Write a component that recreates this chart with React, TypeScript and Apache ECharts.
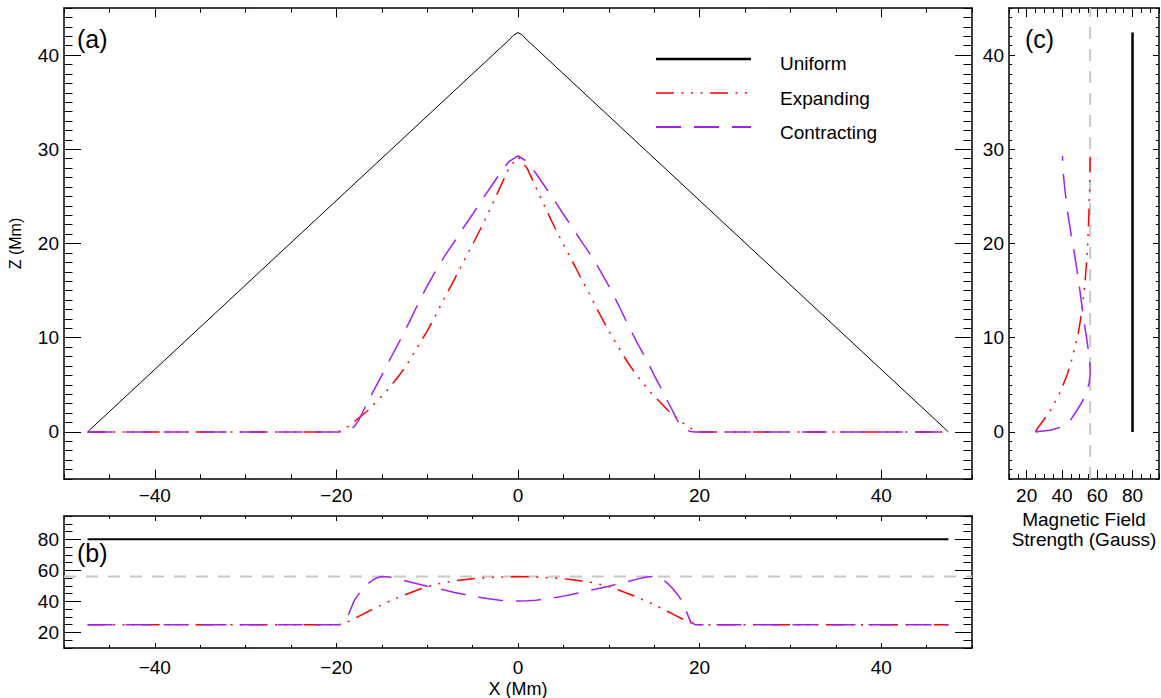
import React, { useEffect, useRef } from "react";
import * as echarts from "echarts";

// ---------------- data ----------------
// loop footpoint-to-footpoint coordinate (Mm)
const X_MM = [-47.4, -40, -30, -21, -20, -19.5, -19, -18.5, -18, -17.5, -17, -16.5, -16, -15.5, -15, -14.5, -14, -13, -12, -11, -10, -9, -8, -7, -6, -5, -4, -3, -2, -1, 0, 1, 2, 3, 4, 5, 6, 7, 8, 9, 10, 11, 12, 13, 14, 14.5, 15, 15.5, 16, 16.5, 17, 17.5, 18, 18.5, 19, 19.5, 20, 21, 30, 40, 47.4];
// loop height Z (Mm)
const Z_EXP = [0, 0, 0, 0, 0, 0.1, 0.4, 0.7, 1.1, 1.5, 1.9, 2.3, 2.8, 3.3, 3.8, 4.3, 4.9, 6.1, 7.5, 9.1, 10.7, 12.5, 14.4, 16.2, 18.1, 19.9, 21.8, 23.8, 25.9, 28.0, 29.2, 28.0, 25.9, 23.8, 21.8, 19.9, 18.1, 16.2, 14.4, 12.5, 10.7, 9.1, 7.5, 6.1, 4.9, 4.3, 3.8, 3.3, 2.8, 2.3, 1.9, 1.5, 1.1, 0.7, 0.4, 0.1, 0, 0, 0, 0, 0];
const Z_CON = [0, 0, 0, 0, 0, 0, 0.05, 0.2, 0.6, 1.3, 2.3, 3.2, 4.2, 5.1, 6.0, 7.0, 7.9, 9.7, 11.6, 13.6, 15.5, 17.2, 18.8, 20.2, 21.7, 23.1, 24.6, 26.0, 27.4, 28.7, 29.3, 28.7, 27.4, 26.0, 24.6, 23.1, 21.7, 20.2, 18.8, 17.2, 15.5, 13.6, 11.6, 9.7, 7.9, 7.0, 6.0, 5.1, 4.2, 3.2, 2.3, 1.3, 0.6, 0.2, 0.05, 0, 0, 0, 0, 0, 0];
// magnetic field strength B (Gauss)
const B_EXP = [25, 25, 25, 25, 25, 25.3, 26.2, 27.5, 29, 30.5, 32, 33.5, 35, 36.4, 37.8, 39.2, 40.5, 43, 45.3, 47.5, 49.5, 51, 52.3, 53.2, 54, 54.6, 55, 55.4, 55.7, 55.9, 56, 55.9, 55.7, 55.4, 55, 54.6, 54, 53.2, 52.3, 51, 49.5, 47.5, 45.3, 43, 40.5, 39.2, 37.8, 36.4, 35, 33.5, 32, 30.5, 29, 27.5, 26.2, 25.3, 25, 25, 25, 25, 25];
const B_CON = [25, 25, 25, 25, 25, 25, 27, 34, 41, 45, 48.5, 51.5, 53.8, 55.3, 56, 55.9, 55.5, 54.2, 52.6, 51.2, 49.8, 48.5, 47.2, 45.8, 44.6, 43.4, 42.4, 41.5, 40.8, 40.4, 40.3, 40.4, 40.8, 41.5, 42.4, 43.4, 44.6, 45.8, 47.2, 48.5, 49.8, 51.2, 52.6, 54.2, 55.5, 55.9, 56, 55.3, 53.8, 51.5, 48.5, 45, 41, 34, 27, 25, 25, 25, 25, 25, 25];
// uniform loop
const X_UNI = [-47.4, -1, -0.5, 0, 0.5, 1, 47.4];
const Z_UNI = [0, 41.6, 42.1, 42.4, 42.1, 41.6, 0];
const B_UNI = 80;
// reference field level (grey dashed)
const B_REF = 56;

const SERIES_NAMES = ["Uniform", "Expanding", "Contracting"];
const PANEL_LABELS = ["(a)", "(b)", "(c)"];

// axis ranges / ticks
const X_RANGE = [-50, 50];
const Z_RANGE = [-5, 45];
const B_RANGE = [10, 95];
const X_TICKS = [-40, -20, 0, 20, 40];
const Z_TICKS = [0, 10, 20, 30, 40];
const B_TICKS = [20, 40, 60, 80];

// ---------------- styles ----------------
const FONT = "'Liberation Sans', Arial, Helvetica, sans-serif";
const RED = "#ff0000";
const PURPLE = "#a020f0";
const GREY = "#c8c8c8";
const EXP_DASH = [18, 7.5, 2, 7.5, 2, 7.5, 2, 7.5];
const CON_DASH = [25, 13];
const REF_DASH = [12, 10];

const fmt = (v: number) => (v < 0 ? "\u2212" + Math.abs(v) : String(v));

function majorAxis(gridIndex: number, position: string, range: number[], values: number[], len: number, label: any, extra: any = {}) {
  return {
    gridIndex,
    type: "value",
    position,
    min: range[0],
    max: range[1],
    axisLine: { show: true, onZero: false, lineStyle: { color: "#000", width: 1.5 } },
    axisTick: { show: true, inside: true, length: len, customValues: values, lineStyle: { color: "#000", width: 1 } },
    axisLabel: label
      ? { show: true, customValues: values, margin: label.margin, fontSize: 19, color: "#000", fontFamily: FONT, formatter: fmt }
      : { show: false },
    splitLine: { show: false },
    ...extra,
  };
}

function minorAxis(gridIndex: number, position: string, range: number[], step: number, len: number) {
  return {
    gridIndex,
    type: "value",
    position,
    min: range[0],
    max: range[1],
    interval: step,
    axisLine: { show: false, onZero: false },
    axisTick: { show: true, inside: true, length: len, lineStyle: { color: "#000", width: 1 } },
    axisLabel: { show: false },
    splitLine: { show: false },
  };
}

function lineSeries(name: string, data: number[][], xi: number, yi: number, color: string, width: number, type: any) {
  return {
    name,
    type: "line",
    xAxisIndex: xi,
    yAxisIndex: yi,
    data,
    symbol: "none",
    showSymbol: false,
    silent: true,
    lineStyle: { color, width, type },
    z: 2,
  };
}

export default function App() {
  const ref = useRef<HTMLDivElement>(null);

  useEffect(() => {
    if (!ref.current) return;
    const chart = echarts.init(ref.current, null, { renderer: "svg" });

    const zip = (a: number[], b: number[]) => a.map((v, i) => [v, b[i]]);
    const half = X_MM.map((x, i) => i).filter((i) => X_MM[i] <= 0);
    const cExp = half.map((i) => [B_EXP[i], Z_EXP[i]]);
    const cCon = half.map((i) => [B_CON[i], Z_CON[i]]);
    const zPeak = Math.max(...Z_UNI);

    const xAxis = [
      // panel a (0-3)
      majorAxis(0, "bottom", X_RANGE, X_TICKS, 9.4, { margin: 7 }),
      minorAxis(0, "bottom", X_RANGE, 5, 4.7),
      majorAxis(0, "top", X_RANGE, X_TICKS, 9.4, null),
      minorAxis(0, "top", X_RANGE, 5, 4.7),
      // panel b (4-7)
      majorAxis(1, "bottom", X_RANGE, X_TICKS, 5, { margin: 10 }, {
        name: "X (Mm)",
        nameLocation: "middle",
        nameGap: 32,
        nameTextStyle: { fontSize: 18, color: "#000", fontFamily: FONT },
      }),
      minorAxis(1, "bottom", X_RANGE, 5, 3),
      majorAxis(1, "top", X_RANGE, X_TICKS, 5, null),
      minorAxis(1, "top", X_RANGE, 5, 3),
      // panel c (8-11)
      majorAxis(2, "bottom", B_RANGE, B_TICKS, 9, { margin: 7 }, {
        name: "Magnetic Field\nStrength (Gauss)",
        nameLocation: "middle",
        nameGap: 29,
        nameTextStyle: { fontSize: 19, lineHeight: 20, color: "#000", fontFamily: FONT },
      }),
      minorAxis(2, "bottom", B_RANGE, 5, 5),
      majorAxis(2, "top", B_RANGE, B_TICKS, 9, null),
      minorAxis(2, "top", B_RANGE, 5, 5),
    ];

    const yAxis = [
      // panel a (0-3)
      majorAxis(0, "left", Z_RANGE, Z_TICKS, 17, { margin: 5 }, {
        name: "Z (Mm)",
        nameLocation: "middle",
        nameGap: 41,
        nameTextStyle: { fontSize: 16, color: "#000", fontFamily: FONT },
      }),
      minorAxis(0, "left", Z_RANGE, 1, 8.5),
      majorAxis(0, "right", Z_RANGE, Z_TICKS, 17, null),
      minorAxis(0, "right", Z_RANGE, 1, 8.5),
      // panel b (4-7)
      majorAxis(1, "left", B_RANGE, B_TICKS, 17, { margin: 5 }),
      minorAxis(1, "left", B_RANGE, 5, 8.5),
      majorAxis(1, "right", B_RANGE, B_TICKS, 17, null),
      minorAxis(1, "right", B_RANGE, 5, 8.5),
      // panel c (8-11)
      majorAxis(2, "left", Z_RANGE, Z_TICKS, 6, { margin: 5 }),
      minorAxis(2, "left", Z_RANGE, 1, 3),
      majorAxis(2, "right", Z_RANGE, Z_TICKS, 6, null),
      minorAxis(2, "right", Z_RANGE, 1, 3),
    ];

    const series = [
      // panel a
      lineSeries(SERIES_NAMES[0], zip(X_UNI, Z_UNI), 0, 0, "#000", 1, "solid"),
      lineSeries(SERIES_NAMES[1], zip(X_MM, Z_EXP), 0, 0, RED, 1.5, EXP_DASH),
      lineSeries(SERIES_NAMES[2], zip(X_MM, Z_CON), 0, 0, PURPLE, 1.5, CON_DASH),
      // panel b
      lineSeries("ref-b", [[X_RANGE[0], B_REF], [X_RANGE[1], B_REF]], 4, 4, GREY, 2, REF_DASH),
      lineSeries(SERIES_NAMES[0] + "-b", [[X_UNI[0], B_UNI], [X_UNI[X_UNI.length - 1], B_UNI]], 4, 4, "#000", 2, "solid"),
      lineSeries(SERIES_NAMES[1] + "-b", zip(X_MM, B_EXP), 4, 4, RED, 1.5, EXP_DASH),
      lineSeries(SERIES_NAMES[2] + "-b", zip(X_MM, B_CON), 4, 4, PURPLE, 1.5, CON_DASH),
      // panel c
      lineSeries("ref-c", [[B_REF, Z_RANGE[0]], [B_REF, Z_RANGE[1]]], 8, 8, GREY, 2, REF_DASH),
      lineSeries(SERIES_NAMES[0] + "-c", [[B_UNI, 0], [B_UNI, zPeak]], 8, 8, "#000", 2.5, "solid"),
      lineSeries(SERIES_NAMES[1] + "-c", cExp, 8, 8, RED, 1.5, EXP_DASH),
      lineSeries(SERIES_NAMES[2] + "-c", cCon, 8, 8, PURPLE, 1.5, CON_DASH),
    ];

    const legendRows = [
      { y: 59, ty: 63, color: "#000", width: 2.5, dash: null },
      { y: 93, ty: 98, color: RED, width: 1.5, dash: EXP_DASH },
      { y: 127, ty: 132, color: PURPLE, width: 2, dash: CON_DASH },
    ];
    const graphic: any[] = [];
    legendRows.forEach((r, i) => {
      graphic.push({
        type: "line",
        silent: true,
        shape: { x1: 656, y1: r.y, x2: 751, y2: r.y },
        style: { stroke: r.color, lineWidth: r.width, lineDash: r.dash || undefined },
      });
      graphic.push({
        type: "text",
        silent: true,
        x: 780,
        y: r.ty,
        style: { text: SERIES_NAMES[i], fill: "#000", fontSize: 19, fontFamily: FONT, verticalAlign: "middle" },
      });
    });
    const panelPos = [
      { x: 77, y: 39 },
      { x: 77, y: 553 },
      { x: 1025, y: 39 },
    ];
    PANEL_LABELS.forEach((t, i) => {
      graphic.push({
        type: "text",
        silent: true,
        x: panelPos[i].x,
        y: panelPos[i].y,
        style: { text: t, fill: "#000", fontSize: 25, fontFamily: FONT, verticalAlign: "middle" },
      });
    });

    const gridBase = { containLabel: false, outerBoundsMode: "none" };
    chart.setOption({
      animation: false,
      backgroundColor: "#fff",
      textStyle: { fontFamily: FONT },
      grid: [
        { ...gridBase, left: 64, top: 8, width: 908, height: 471 },
        { ...gridBase, left: 64, top: 516, width: 908, height: 132 },
        { ...gridBase, left: 1009, top: 8, width: 150, height: 471 },
      ],
      xAxis,
      yAxis,
      series,
      graphic,
    });

    return () => chart.dispose();
  }, []);

  return (
    <div
      ref={ref}
      style={{ position: "absolute", left: 0, top: 0, width: 1161, height: 698, background: "#fff" }}
    />
  );
}
